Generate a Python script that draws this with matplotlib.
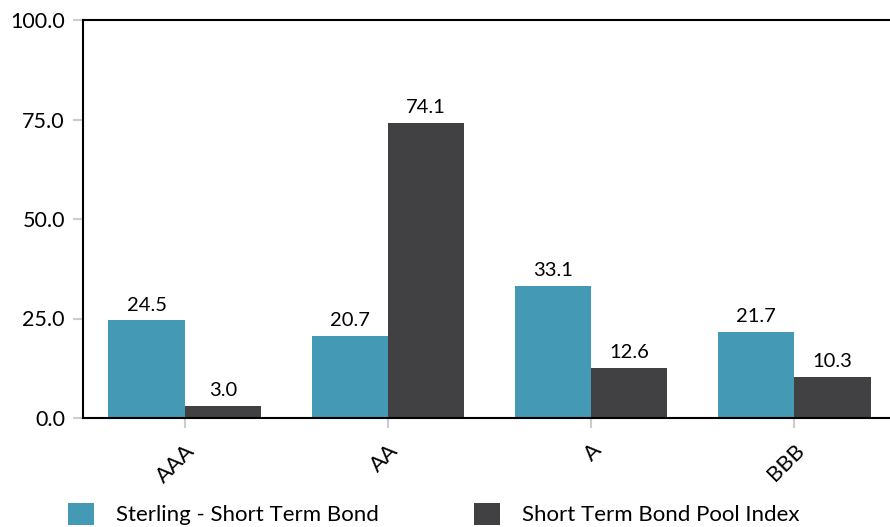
import matplotlib.pyplot as plt
import numpy as np

categories = ['AAA', 'AA', 'A', 'BBB']
fund = [24.5, 20.7, 33.1, 21.7]
index = [3.0, 74.1, 12.6, 10.3]
series_names = ['Sterling - Short Term Bond', 'Short Term Bond Pool Index']
colors = ['#4499b5', '#414143']

plt.rcParams['font.family'] = ['Lato', 'DejaVu Sans']

fig = plt.figure(figsize=(8.9, 5.27), dpi=100)
ax = fig.add_axes([83 / 890, 1 - 418 / 527, 1 - 83 / 890, 398 / 527])

x = np.arange(len(categories))
w = 0.375
b1 = ax.bar(x - w / 2, fund, w, color=colors[0], label=series_names[0])
b2 = ax.bar(x + w / 2, index, w, color=colors[1], label=series_names[1])

for bars in (b1, b2):
    for rect in bars:
        v = rect.get_height()
        ax.annotate('%.1f' % v, (rect.get_x() + rect.get_width() / 2, v),
                    xytext=(0, 5), textcoords='offset points',
                    ha='center', va='bottom', fontsize=14.5)

ax.set_xlim(-0.5, 3.47)
ax.set_ylim(0, 100)
ax.set_yticks([0, 25, 50, 75, 100])
ax.set_yticklabels(['%.1f' % t for t in [0, 25, 50, 75, 100]])
ax.set_xticks(x)
ax.set_xticklabels(categories, rotation=45, ha='right', rotation_mode='anchor')
ax.tick_params(axis='both', color='#cccccc', length=7, width=1.5)
ax.tick_params(axis='x', pad=9, labelsize=16)
ax.tick_params(axis='y', pad=6, labelsize=15.5)
ax.spines['right'].set_visible(False)
for s in ('left', 'top', 'bottom'):
    ax.spines[s].set_linewidth(1.5)

fig.legend(handles=[b1, b2], loc='center left', bbox_to_anchor=(68 / 890, 1 - 514 / 527),
           ncol=2, frameon=False, fontsize=16, handlelength=1.15, handleheight=1.2,
           columnspacing=4.3, handletextpad=1.0, borderpad=0, borderaxespad=0)

fig.savefig('out.png', dpi=100)
